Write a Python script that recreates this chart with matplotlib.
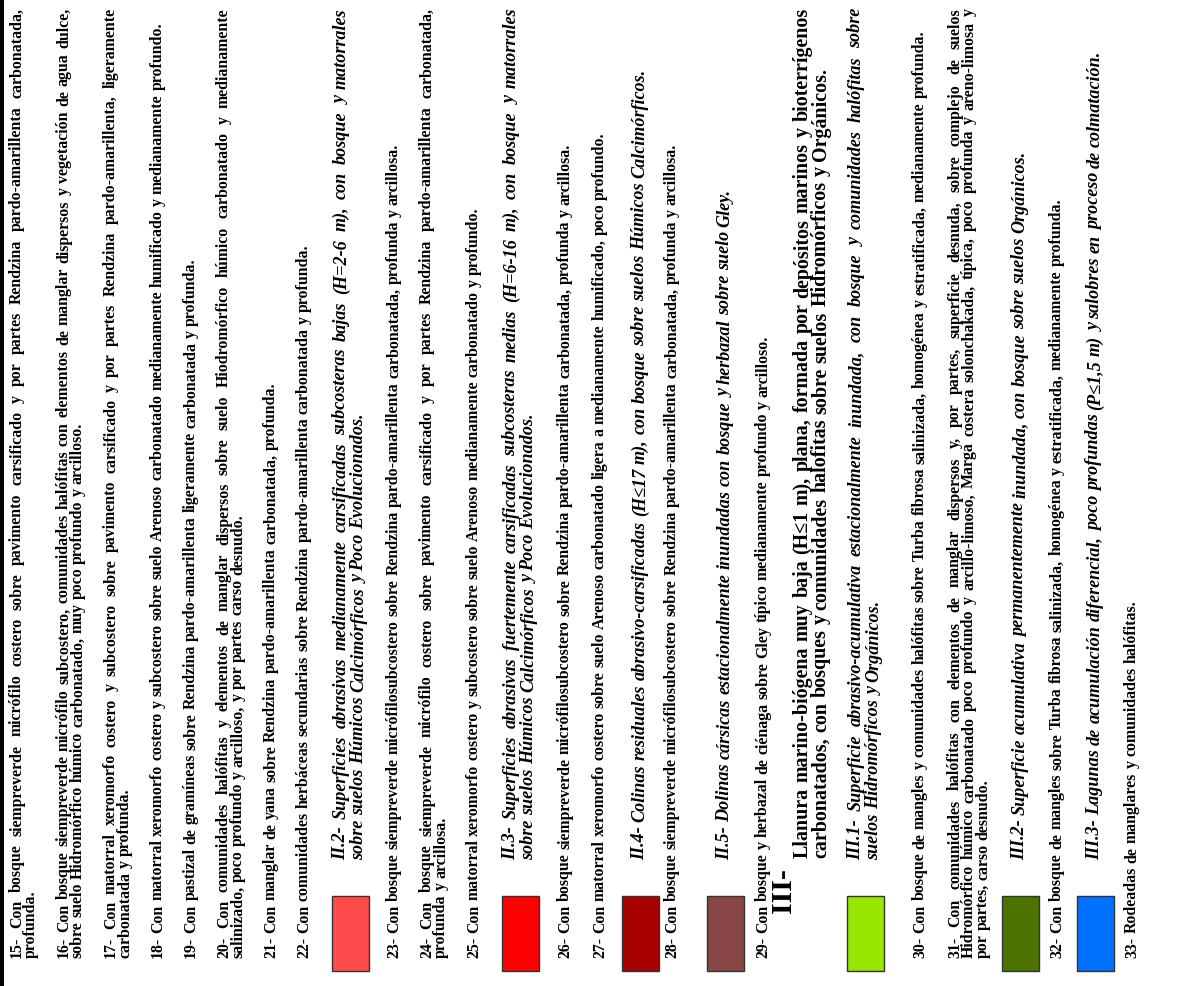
import matplotlib
matplotlib.use('Agg')
import matplotlib.pyplot as plt
from matplotlib.font_manager import FontProperties
from matplotlib.patches import Rectangle

# legend texts, one list of lines per block (reference page is rotated 90 deg)
texts = [
    ["15- Con bosque siempreverde micrófilo costero sobre pavimento carsificado y por partes Rendzina pardo-amarillenta carbonatada,",
     "profunda."],
    ["16- Con bosque siempreverde micrófilo subcostero, comunidades halófitas con elementos de manglar dispersos y vegetación de agua dulce,",
     "sobre suelo Hidromórfico húmico carbonatado, muy poco profundo y arcilloso."],
    ["17- Con matorral xeromorfo costero y subcostero sobre pavimento carsificado y por partes Rendzina pardo-amarillenta, ligeramente",
     "carbonatada y profunda."],
    ["18- Con matorral xeromorfo costero y subcostero sobre suelo Arenoso carbonatado medianamente humificado y medianamente profundo."],
    ["19- Con pastizal de gramíneas sobre Rendzina pardo-amarillenta ligeramente carbonatada y profunda."],
    ["20- Con comunidades halófitas y elementos de manglar dispersos sobre suelo Hiodromórfico húmico carbonatado y medianamente",
     "salinizado, poco profundo y arcilloso, y por partes carso desnudo."],
    ["21- Con manglar de yana sobre Rendzina pardo-amarillenta carbonatada, profunda."],
    ["22- Con comunidades herbáceas secundarias sobre Rendzina pardo-amarillenta carbonatada y profunda."],
    ["II.2- Superficies abrasivas medianamente carsificadas subcosteras bajas (H=2-6 m), con bosque y matorrales",
     "sobre suelos Húmicos Calcimórficos y Poco Evolucionados."],
    ["23- Con bosque siempreverde micrófilosubcostero sobre Rendzina pardo-amarillenta carbonatada, profunda y arcillosa."],
    ["24- Con bosque siempreverde micrófilo costero sobre pavimento carsificado y por partes Rendzina pardo-amarillenta carbonatada,",
     "profunda y arcillosa."],
    ["25- Con matorral xeromorfo costero y subcostero sobre suelo Arenoso medianamente carbonatado y profundo."],
    ["II.3- Superficies abrasivas fuertemente carsificadas subcosteras medias (H=6-16 m), con bosque y matorrales",
     "sobre suelos Húmicos Calcimórficos y Poco Evolucionados."],
    ["26- Con bosque siempreverde micrófilosubcostero sobre Rendzina pardo-amarillenta carbonatada, profunda y arcillosa."],
    ["27- Con matorral xeromorfo costero sobre suelo Arenoso carbonatado ligera a medianamente humificado, poco profundo."],
    ["II.4- Colinas residuales abrasivo-carsificadas (H≤17 m), con bosque sobre suelos Húmicos Calcimórficos."],
    ["28- Con bosque siempreverde micrófilosubcostero sobre Rendzina pardo-amarillenta carbonatada, profunda y arcillosa."],
    ["II.5- Dolinas cársicas estacionalmente inundadas con bosque y herbazal sobre suelo Gley."],
    ["29- Con bosque y herbazal de ciénaga sobre Gley típico medianamente profundo y arcilloso."],
    ["Llanura marino-biógena muy baja (H≤1 m), plana, formada por depósitos marinos y bioterrígenos",
     "carbonatados, con bosques y comunidades halofitas sobre suelos Hidromórficos y Orgánicos."],
    ["III.1- Superficie abrasivo-acumulativa estacionalmente inundada, con bosque y comunidades halófitas sobre",
     "suelos Hidromórficos y Orgánicos."],
    ["30- Con bosque de mangles y comunidades halófitas sobre Turba fibrosa salinizada, homogénea y estratificada, medianamente profunda."],
    ["31- Con comunidades halófitas con elementos de manglar dispersos y, por partes, superficie desnuda, sobre complejo de suelos",
     "Hidromórfico húmico carbonatado poco profundo y arcillo-limoso, Marga costera solonchakada, típica, poco profunda y areno-limosa y",
     "por partes, carso desnudo."],
    ["III.2- Superficie acumulativa permanentemente inundada, con bosque sobre suelos Orgánicos."],
    ["32- Con bosque de mangles sobre Turba fibrosa salinizada, homogénea y estratificada, medianamente profunda."],
    ["III.3- Lagunas de acumulación diferencial, poco profundas (P≤1,5 m) y salobres en proceso de colmatación."],
    ["33- Rodeadas de manglares y comunidades halófitas."],
]
# b = body item, h = italic unit heading with swatch, t = region title
kinds = ['b', 'b', 'b', 'b', 'b', 'b', 'b', 'b', 'h', 'b', 'b', 'b', 'h', 'b', 'b', 'h',
         'b', 'h', 'b', 't', 'h', 'b', 'b', 'h', 'b', 'h', 'b']
swatch_colors = ['#FF4B4B', '#FF0000', '#A80000', '#894646', '#98E600', '#4C7300', '#0070FF']
region_label = "III-"

# layout: x centre of each line (pixels), page is 1181 x 987
block_x = [[17, 31], [64, 78], [111, 125], [158], [191], [224, 238], [271], [304],
           [341, 359], [394], [427, 441], [474], [511, 529], [565], [600], [640],
           [672], [725], [763], [803, 821], [856, 874], [920], [955, 969, 983],
           [1020], [1057], [1095], [1132]]

W, H = 1181, 987
fig = plt.figure(figsize=(W / 100, H / 100), dpi=100)
ax = fig.add_axes([0, 0, 1, 1])
ax.set_xlim(0, W)
ax.set_ylim(H, 0)
ax.axis('off')
renderer = fig.canvas.get_renderer()

serif = ['Liberation Serif', 'DejaVu Serif']


def fprop(size, style='normal'):
    return FontProperties(family=serif, weight='bold', style=style, size=size)


def text_w(s, fp):
    return renderer.get_text_width_height_descent(s, fp, ismath=False)[0]


def fit_size(s, target, style='normal'):
    return 10 * target / text_w(s, fprop(10, style))


body_fp = fprop(fit_size(texts[3][0], 938))
head_fp = fprop(fit_size(texts[15][0], 795, 'italic'), 'italic')
title_fp = fprop(fit_size(texts[19][1], 793))
big_fp = fprop(21.5)

starts = {'b': 958, 'h': 860, 't': 858}
line_end = 8


def draw_line(x, y0, s, fp, justify):
    words = s.split(' ')
    ws = [text_w(w, fp) for w in words]
    if justify and len(words) > 1:
        gap = (y0 - line_end - sum(ws)) / (len(words) - 1)
    else:
        gap = text_w('x x', fp) - text_w('xx', fp)
    y = y0
    for w, wd in zip(words, ws):
        ax.text(x, y, w, rotation=90, rotation_mode='anchor', ha='left',
                va='center', fontproperties=fp, color='black')
        y -= wd + gap


k = 0
for lines, kind, xs in zip(texts, kinds, block_x):
    fp = {'b': body_fp, 'h': head_fp, 't': title_fp}[kind]
    for i, (s, x) in enumerate(zip(lines, xs)):
        draw_line(x, starts[kind], s, fp, i < len(lines) - 1)
    if kind == 'h':
        xc = sum(xs) / len(xs)
        ax.add_patch(Rectangle((xc - 18.5, 897), 37, 75, facecolor=swatch_colors[k],
                               edgecolor='#333333', linewidth=1))
        k += 1
    if kind == 't':
        ax.text(784, 913, region_label, rotation=90, rotation_mode='anchor',
                ha='left', va='center', fontproperties=big_fp, color='black')

# black border on the left edge
ax.add_patch(Rectangle((0, 0), 4, H, facecolor='black', edgecolor='none'))

fig.savefig('out.png', dpi=100, facecolor='white')
